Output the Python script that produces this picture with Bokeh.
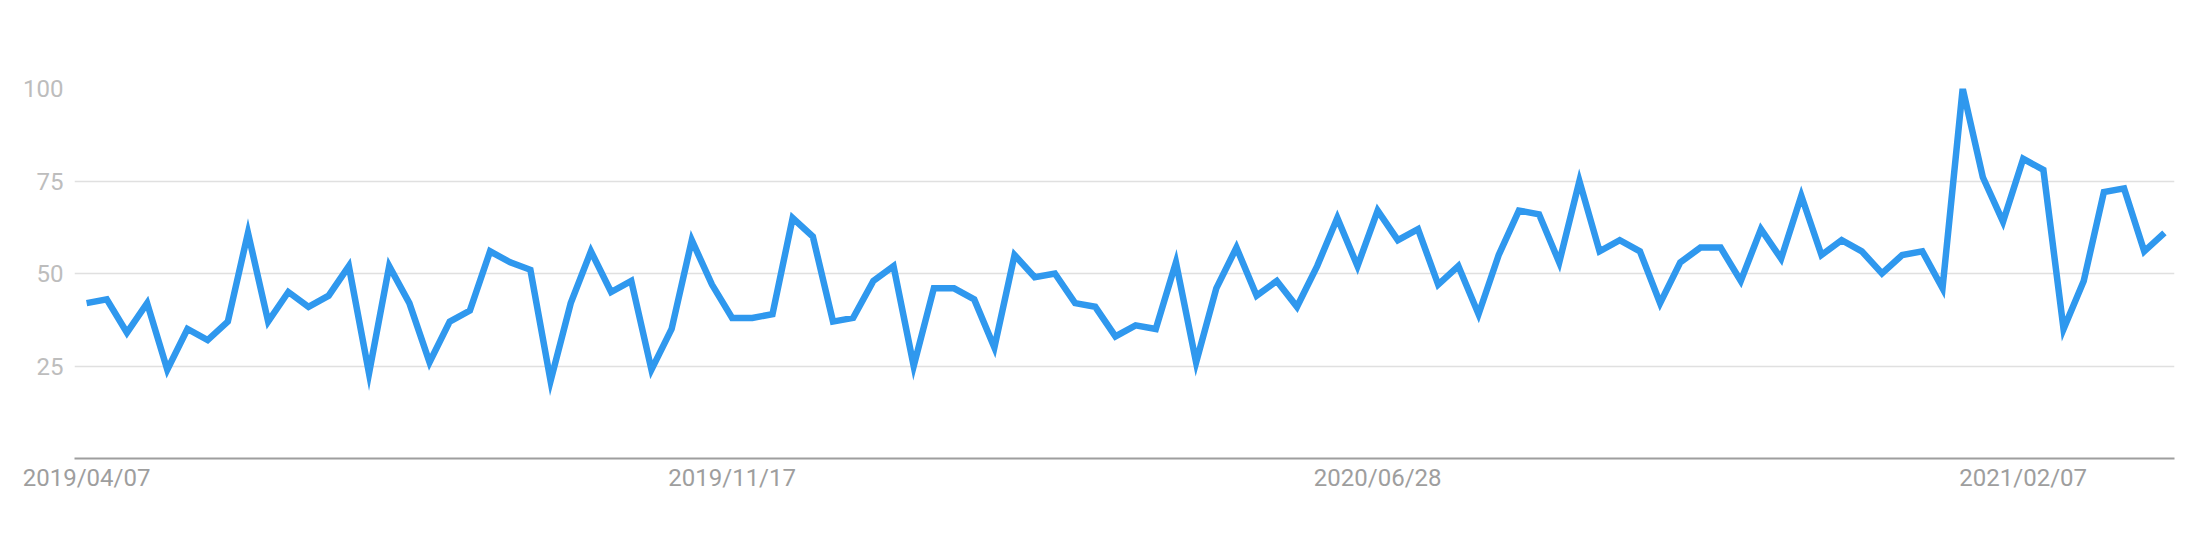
import pandas as pd
from bokeh.plotting import figure
from bokeh.models import Range1d, FixedTicker, DatetimeTickFormatter, ColumnDataSource
from bokeh.embed import file_html
from bokeh.resources import INLINE

# ---- data ----
start_week = "2019-04-07"
interest = [42, 43, 34, 42, 24, 35, 32, 37, 61, 37, 45, 41, 44, 52, 23, 52, 42, 26, 37, 40, 56, 53, 51, 21,
            42, 56, 45, 48, 24, 35, 59, 47, 38, 38, 39, 65, 60, 37, 38, 48, 52, 25, 46, 46, 43, 30, 55, 49, 50, 42,
            41,
            33, 36, 35, 53, 26, 46, 57, 44, 48, 41, 52, 65, 52, 67, 59, 62, 47, 52, 39, 55, 67, 66, 53, 75, 56, 59, 56,
            42, 53, 57, 57, 48, 62, 54, 71, 55, 59, 56, 50, 55, 56, 46, 100, 76, 64, 81, 78, 35, 48, 72, 73, 56, 61]
tick_dates = ["2019-04-07", "2019-11-17", "2020-06-28", "2021-02-07"]
y_ticks = [25, 50, 75, 100]

weeks = pd.date_range(start_week, periods=len(interest), freq="7D")
source = ColumnDataSource(dict(week=weeks, value=interest))

week = pd.Timedelta(days=7)
p = figure(width=2182, height=524, x_axis_type="datetime",
           x_range=Range1d(weeks[0] - 0.6 * week, weeks[-1] + 0.5 * week),
           y_range=Range1d(0, 100),
           output_backend="svg", toolbar_location=None,
           min_border_left=74, min_border_right=8, min_border_top=88, min_border_bottom=66)
p.outline_line_color = None
p.background_fill_color = "white"
p.border_fill_color = "white"

p.line("week", "value", source=source, line_color="#2f98ee", line_width=6.5, line_join="miter")

# grid
p.xgrid.visible = False
p.ygrid.ticker = FixedTicker(ticks=y_ticks)
p.ygrid.grid_line_color = "#e0e0e0"
p.ygrid.grid_line_width = 1.5

# y axis
ya = p.yaxis[0]
ya.ticker = FixedTicker(ticks=y_ticks)
ya.axis_line_color = None
ya.major_tick_line_color = None
ya.minor_tick_line_color = None
ya.major_tick_out = 0
ya.major_tick_in = 0
ya.major_label_standoff = 11
ya.major_label_text_font = "Roboto"
ya.major_label_text_font_size = "24px"
ya.major_label_text_color = "#bdbdbd"

# x axis
xa = p.xaxis[0]
xa.ticker = FixedTicker(ticks=[pd.Timestamp(d).value // 10**6 for d in tick_dates])
fmt = "%Y/%m/%d"
xa.formatter = DatetimeTickFormatter(microseconds=fmt, milliseconds=fmt, seconds=fmt, minsec=fmt,
                                     minutes=fmt, hourmin=fmt, hours=fmt, days=fmt, months=fmt, years=fmt)
xa.axis_line_color = "#9e9e9e"
xa.axis_line_width = 2
xa.major_tick_line_color = None
xa.minor_tick_line_color = None
xa.major_tick_out = 0
xa.major_tick_in = 0
xa.major_label_standoff = 5
xa.major_label_text_font = "Roboto"
xa.major_label_text_font_size = "24px"
xa.major_label_text_color = "#9e9e9e"

open("out.html", "w").write(file_html(p, INLINE))
